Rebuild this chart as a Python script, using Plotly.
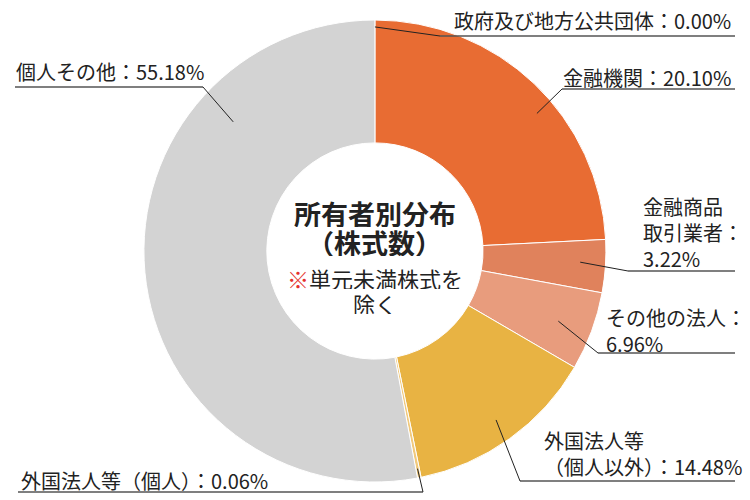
import math
import plotly.graph_objects as go

# ---------------- data ----------------
categories = [
    "政府及び地方公共団体",
    "金融機関",
    "金融商品取引業者",
    "その他の法人",
    "外国法人等（個人以外）",
    "外国法人等（個人）",
    "個人その他",
]
# percentages printed in the labels
label_pct = [0.00, 20.10, 3.22, 6.96, 14.48, 0.06, 55.18]
# slice sizes as drawn in the reference picture
slice_share = [0.0, 24.2, 3.7, 5.5, 13.4, 0.25, 52.95]
colors = ["#E86C33", "#E86C33", "#E0825C", "#E89C7D", "#E8B343", "#F1C97C", "#D3D3D3"]

# how each label's name is broken into lines (layout)
label_templates = [
    "{name}：{pct}",
    "{name}：{pct}",
    "金融商品<br>取引業者：<br>{pct}",
    "{name}：<br>{pct}",
    "外国法人等<br>（個人以外）：{pct}",
    "{name}：{pct}",
    "{name}：{pct}",
]

W, H = 750, 500
FONT = "Noto Sans CJK JP"
dom_x = [0.1919, 0.8079]
dom_y = [0.036, 0.960]
HOLE = 0.468

fig = go.Figure(go.Pie(
    labels=categories,
    values=slice_share,
    sort=False,
    direction="clockwise",
    rotation=0,
    hole=HOLE,
    textinfo="none",
    hoverinfo="label+percent",
    marker=dict(colors=colors, line=dict(color="white", width=1)),
    domain=dict(x=dom_x, y=dom_y),
    showlegend=False,
))

def px(x):
    return x / W

def py(y):
    return 1 - y / H

# pie geometry in pixels (derived from the domain)
cx = (dom_x[0] + dom_x[1]) / 2 * W
cy = (1 - (dom_y[0] + dom_y[1]) / 2) * H
R = min((dom_x[1] - dom_x[0]) * W, (dom_y[1] - dom_y[0]) * H) / 2

# label layout: text position, underline, elbow, anchor position inside slice
label_layout = [
    dict(x=733, y=20, xa="right", uy=36, ux0=440, ux1=735, ex=440, t=0.5, r=0.97),
    dict(x=733, y=77, xa="right", uy=89, ux0=562, ux1=735, ex=562, t=0.57, r=0.92),
    dict(x=641, y=233, xa="left", uy=271, ux0=628, ux1=735, ex=628, t=0.45, r=0.89),
    dict(x=604, y=330, xa="left", uy=353, ux0=598, ux1=735, ex=598, t=0.53, r=0.85),
    dict(x=542, y=453, xa="left", uy=481, ux0=520, ux1=735, ex=520, t=0.5, r=0.90),
    dict(x=19, y=480, xa="left", uy=492, ux0=18, ux1=423, ex=423, t=0.5, r=0.96),
    dict(x=14, y=71, xa="left", uy=87, ux0=15, ux1=203, ex=203, t=0.75, r=0.83),
]

annotations = []
shapes = []
cum = 0.0
for name, pct, share, tpl, lay in zip(categories, label_pct, slice_share, label_templates, label_layout):
    text = tpl.format(name=name, pct=f"{pct:.2f}%")
    annotations.append(dict(
        x=px(lay["x"]), y=py(lay["y"]), xref="paper", yref="paper",
        xanchor=lay["xa"], yanchor="middle", align="left",
        text=text, showarrow=False,
        font=dict(family=FONT, size=20, color="#222222"),
    ))
    ang = math.radians((cum + lay["t"] * share) / 100 * 360)
    ax = cx + lay["r"] * R * math.sin(ang)
    ay = cy - lay["r"] * R * math.cos(ang)
    cum += share
    shapes.append(dict(type="line", xref="paper", yref="paper",
                       x0=px(lay["ux0"]), x1=px(lay["ux1"]), y0=py(lay["uy"]), y1=py(lay["uy"]),
                       line=dict(color="#555555", width=1.5)))
    shapes.append(dict(type="line", xref="paper", yref="paper",
                       x0=px(lay["ex"]), y0=py(lay["uy"]), x1=px(ax), y1=py(ay),
                       line=dict(color="#222222", width=1)))

# centre text
center_lines = [
    ("所有者別分布", 214, 27, 700),
    ("（株式数）", 242, 27, 700),
    ("<span style='color:#E5322D'>※</span>単元未満株式を", 278, 22, 400),
    ("除く", 303, 22, 400),
]
for txt, y, size, weight in center_lines:
    annotations.append(dict(
        x=px(cx), y=py(y), xref="paper", yref="paper",
        xanchor="center", yanchor="middle", text=txt, showarrow=False,
        height=int(size * 1.0), borderpad=0,
        font=dict(family=FONT, size=size, color="#222222", weight=weight),
    ))

fig.update_layout(
    width=W, height=H,
    margin=dict(l=0, r=0, t=0, b=0),
    paper_bgcolor="white",
    plot_bgcolor="white",
    annotations=annotations,
    shapes=shapes,
    font=dict(family=FONT),
)

fig.write_html("out.html", config={"displayModeBar": False},
               post_script="document.body.style.margin='0';")
